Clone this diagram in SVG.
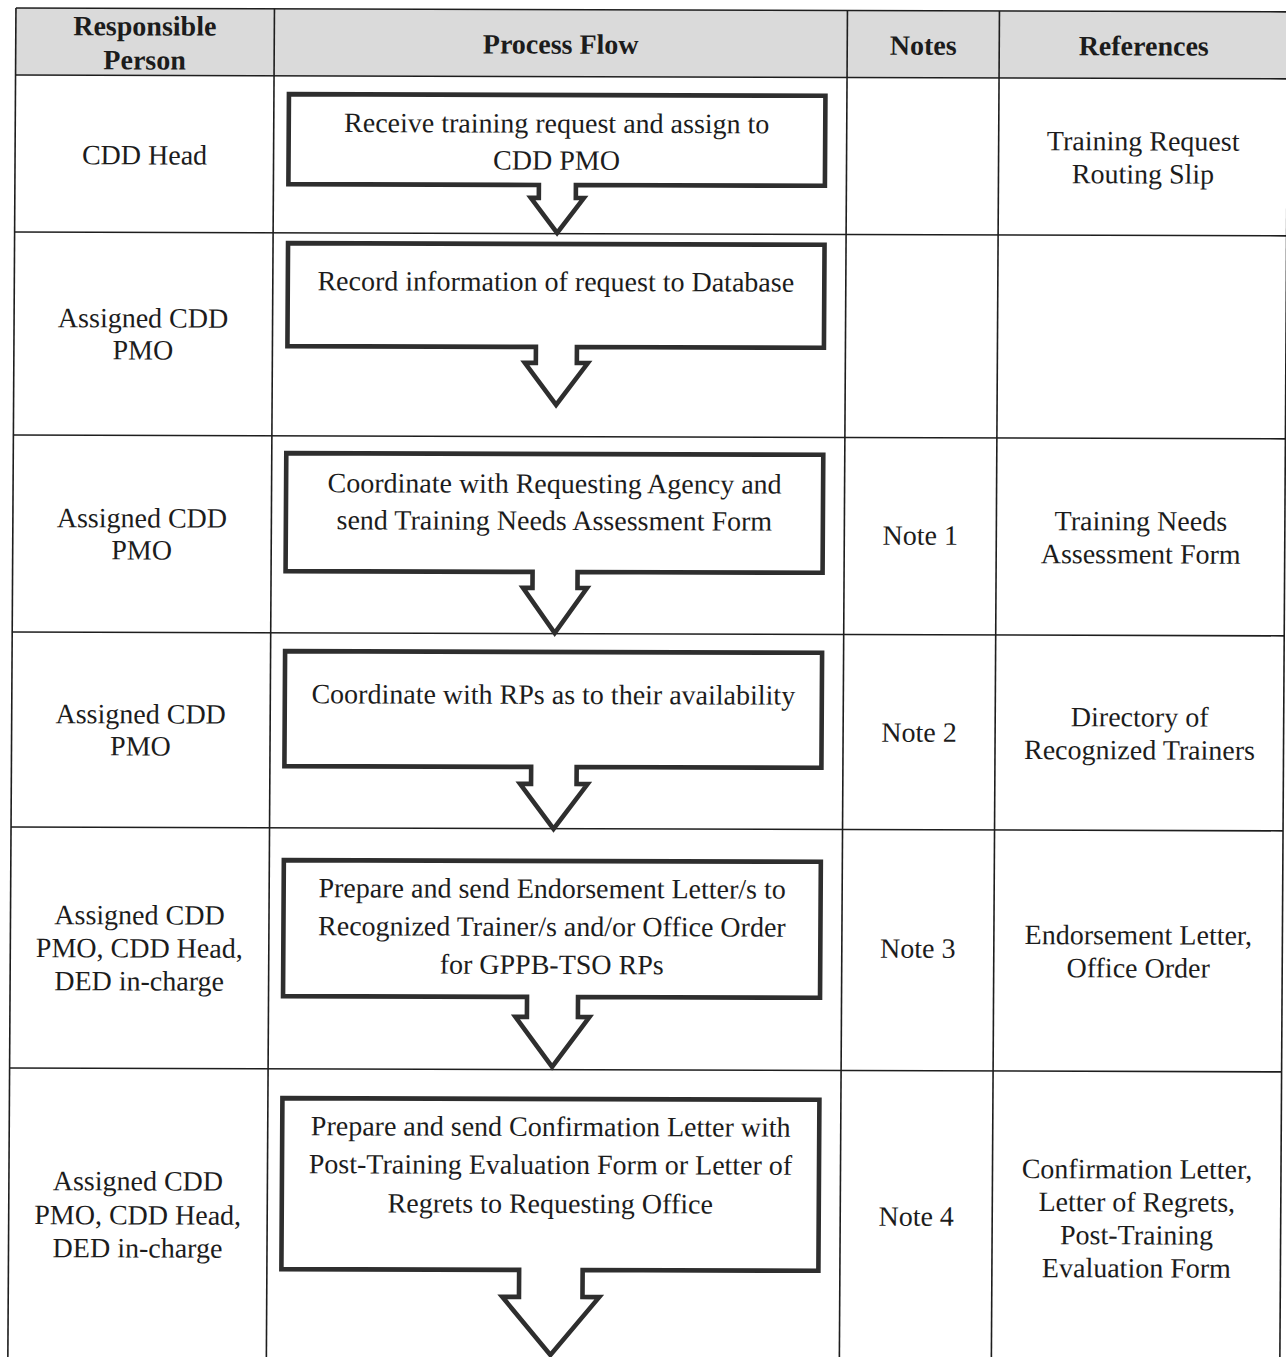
<svg xmlns="http://www.w3.org/2000/svg" width="1286" height="1357" viewBox="0 0 1286 1357">
<style>
  .grid { stroke: #1e1e1e; stroke-width: 1.6; fill: none; }
  .box { fill: #ffffff; stroke: #2e2e2e; stroke-width: 4.6; stroke-linejoin: miter; }
  .t { font-family: "Liberation Serif", "Times New Roman", serif; font-size: 28px; fill: #1c1c1c; text-anchor: middle; }
  .h { font-weight: bold; }
</style>
<rect x="0" y="0" width="1286" height="1357" fill="#ffffff"/>
<g transform="matrix(1,0.003,-0.006,1,0,0)">
  <g id="table">
    <rect x="16" y="8" width="1272" height="67" fill="#dadada"/>
    <line class="grid" x1="16" y1="8" x2="1288" y2="8"/>
    <line class="grid" x1="16" y1="75" x2="1288" y2="75" stroke-width="2.2"/>
    <line class="grid" x1="16" y1="232" x2="1288" y2="232"/>
    <line class="grid" x1="16" y1="435" x2="1288" y2="435"/>
    <line class="grid" x1="16" y1="632" x2="1288" y2="632"/>
    <line class="grid" x1="16" y1="827" x2="1288" y2="827"/>
    <line class="grid" x1="16" y1="1068" x2="1288" y2="1068"/>
    <line class="grid" x1="16" y1="8" x2="16" y2="1400"/>
    <line class="grid" x1="274.5" y1="8" x2="274.5" y2="1400"/>
    <line class="grid" x1="847.5" y1="8" x2="847.5" y2="1400"/>
    <line class="grid" x1="999.5" y1="8" x2="999.5" y2="1400"/>
    <line class="grid" x1="1288" y1="8" x2="1288" y2="1400"/>
  </g>
  <g id="header">
    <text class="t h" x="145" y="35">Responsible</text>
    <text class="t h" x="145" y="69">Person</text>
    <text class="t h" x="561" y="52">Process Flow</text>
    <text class="t h" x="923.5" y="52">Notes</text>
    <text class="t h" x="1144" y="52">References</text>
  </g>
  <g id="row1-person"><text class="t" x="145.5" y="164">CDD Head</text></g>
  <g id="row2-person"><text class="t" x="145" y="327">Assigned CDD</text><text class="t" x="145" y="359">PMO</text></g>
  <g id="row3-person"><text class="t" x="145" y="527">Assigned CDD</text><text class="t" x="145" y="559">PMO</text></g>
  <g id="row4-person"><text class="t" x="145" y="723">Assigned CDD</text><text class="t" x="145" y="755">PMO</text></g>
  <g id="row5-person"><text class="t" x="145" y="924">Assigned CDD</text><text class="t" x="145" y="957">PMO, CDD Head,</text><text class="t" x="145" y="990">DED in-charge</text></g>
  <g id="row6-person"><text class="t" x="145" y="1190">Assigned CDD</text><text class="t" x="145" y="1224">PMO, CDD Head,</text><text class="t" x="145" y="1257">DED in-charge</text></g>

  <g id="step1">
    <path class="box" d="M289.5,93.3 H826 V183.3 H577 V196.3 H585 L558.5,231.3 L532,196.3 H540 V183.3 H289.5 Z"/>
    <text class="t" x="557.5" y="131">Receive training request and assign to</text>
    <text class="t" x="557.5" y="168">CDD PMO</text>
  </g>
  <g id="step2">
    <path class="box" d="M289.5,242.3 H826 V345.3 H579 V361.3 H590 L558.5,403.3 L527,361.3 H538 V345.3 H289.5 Z"/>
    <text class="t" x="557.5" y="289.3">Record information of request to Database</text>
  </g>
  <g id="step3">
    <path class="box" d="M289,452.3 H826 V570.3 H581 V586.3 H590.5 L558.5,631.3 L526.5,586.3 H536 V570.3 H289 Z"/>
    <text class="t" x="557.5" y="491.3">Coordinate with Requesting Agency and</text>
    <text class="t" x="557.5" y="528.3">send Training Needs Assessment Form</text>
  </g>
  <g id="step4">
    <path class="box" d="M289,650.3 H826 V765.3 H581.25 V782.3 H592.25 L558.5,827.3 L524.75,782.3 H535.75 V765.3 H289 Z"/>
    <text class="t" x="557.5" y="702.3">Coordinate with RPs as to their availability</text>
  </g>
  <g id="step5">
    <path class="box" d="M289,859.3 H826 V995.3 H584 V1015.3 H595.5 L558.5,1065.3 L521.5,1015.3 H533 V995.3 H289 Z"/>
    <text class="t" x="557.5" y="896.3">Prepare and send Endorsement Letter/s to</text>
    <text class="t" x="557.5" y="934.3">Recognized Trainer/s and/or Office Order</text>
    <text class="t" x="557.5" y="972.3">for GPPB-TSO RPs</text>
  </g>
  <g id="step6">
    <path class="box" d="M289,1097.3 H826 V1268.3 H590.25 V1295.3 H607 L558.5,1353.3 L510,1295.3 H526.75 V1268.3 H289 Z"/>
    <text class="t" x="557.5" y="1134.3">Prepare and send Confirmation Letter with</text>
    <text class="t" x="557.5" y="1172.3">Post-Training Evaluation Form or Letter of</text>
    <text class="t" x="557.5" y="1211.3">Regrets to Requesting Office</text>
  </g>
  <g id="connectors"></g>

  <g id="notes">
    <text class="t" x="923.5" y="542">Note 1</text>
    <text class="t" x="923.5" y="739">Note 2</text>
    <text class="t" x="923.5" y="955">Note 3</text>
    <text class="t" x="923.5" y="1223">Note 4</text>
  </g>
  <g id="references">
    <text class="t" x="1144" y="147">Training Request</text>
    <text class="t" x="1144" y="180">Routing Slip</text>
    <text class="t" x="1144" y="527">Training Needs</text>
    <text class="t" x="1144" y="560">Assessment Form</text>
    <text class="t" x="1144" y="723">Directory of</text>
    <text class="t" x="1144" y="756">Recognized Trainers</text>
    <text class="t" x="1144" y="941">Endorsement Letter,</text>
    <text class="t" x="1144" y="974">Office Order</text>
    <text class="t" x="1144" y="1175">Confirmation Letter,</text>
    <text class="t" x="1144" y="1208">Letter of Regrets,</text>
    <text class="t" x="1144" y="1241">Post-Training</text>
    <text class="t" x="1144" y="1274">Evaluation Form</text>
  </g>
</g>
</svg>
